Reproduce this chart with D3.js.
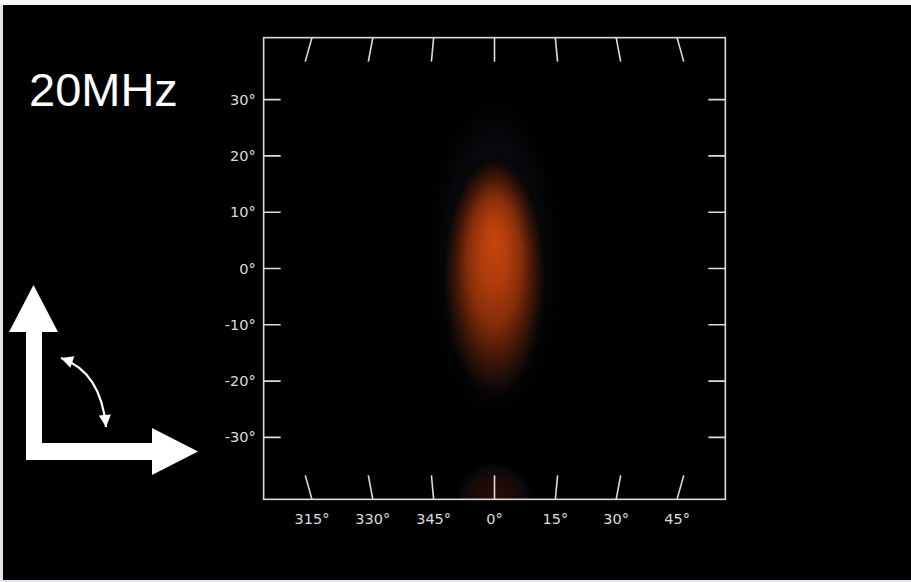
<!DOCTYPE html>
<html><head><meta charset="utf-8">
<script src="https://cdn.jsdelivr.net/npm/d3@7"></script>
<style>html,body{margin:0;padding:0;background:#e4e5e9;} svg{display:block}</style>
</head><body><svg id="c" width="911" height="582"></svg>
<script>
// ---- data ----
const title = "20MHz";
const azTicks = [-45, -30, -15, 0, 15, 30, 45];
const azTickLabels = ["315°", "330°", "345°", "0°", "15°", "30°", "45°"];
const elTicks = [30, 20, 10, 0, -10, -20, -30];
const elTickLabels = ["30°", "20°", "10°", "0°", "-10°", "-20°", "-30°"];
const elLimit = 41;          // elevation at the frame's top / bottom edge (deg)
// beam-pattern lobes (degrees)
const lobeName   = ["halo", "main", "back"];
const lobeAz     = [0, 0, 0];
const lobeEl     = [1, -2, -41];
const lobeRadAz  = [16, 11.2, 10];
const lobeRadEl  = [33, 22.5, 7];
const lobeFocusEl= [6, 5, -41];
const lobeStopOffsets = [
  [0, 0.6, 1],
  [0, 0.25, 0.5, 0.7, 0.87, 1],
  [0, 0.5, 0.8, 1]
];
const lobeStopColors = [
  ["#10141b", "#0b0e13", "#000000"],
  ["#c6450e", "#b13d0c", "#862d0a", "#461707", "#140b08", "#000000"],
  ["#2c0e07", "#1c0a07", "#0c0b0e", "#000000"]
];
const lobeStopOpacity = [
  [0.9, 0.6, 0],
  [1, 1, 1, 1, 1, 0],
  [1, 1, 0.8, 0]
];

// ---- setup ----
const svg = d3.select("#c");
const W = 911, H = 582;

// pseudo-cylindrical sky projection: straight parallels, converging meridians
const kx = 0.853, pw = 0.6;
function raw(l, f) { return [kx * l * Math.pow(Math.cos(f), pw), f]; }
raw.invert = (x, y) => [x / (kx * Math.pow(Math.cos(y), pw)), y];
const proj = d3.geoProjection(raw).scale(322.6).translate([494.5, 268.5]).precision(0.1);
const geoPath = d3.geoPath(proj);

const cx = proj([0, 0])[0], cy = proj([0, 0])[1];
const half = cy - proj([0, elLimit])[1];
const fx0 = cx - half, fx1 = cx + half, fy0 = cy - half, fy1 = cy + half;

// page background & black panel
svg.append("rect").attr("x", 0).attr("y", 0).attr("width", W).attr("height", H).attr("fill", "#e4e5e9");
svg.append("rect").attr("x", 0).attr("y", 0).attr("width", W).attr("height", 5).attr("fill", "#f7f7f7");
svg.append("rect").attr("x", 3).attr("y", 5).attr("width", W - 3).attr("height", 575).attr("fill", "#000");

const defs = svg.append("defs");
defs.append("clipPath").attr("id", "frameClip")
  .append("rect").attr("x", fx0).attr("y", fy0).attr("width", fx1 - fx0).attr("height", fy1 - fy0);

// ---- beam lobes ----
const heat = svg.append("g").attr("clip-path", "url(#frameClip)");
lobeName.forEach((name, i) => {
  const c = proj([lobeAz[i], lobeEl[i]]);
  const rx = proj([lobeAz[i] + lobeRadAz[i], lobeEl[i]])[0] - c[0];
  const ry = proj([lobeAz[i], lobeEl[i] - lobeRadEl[i]])[1] - c[1];
  const fyPix = proj([lobeAz[i], lobeFocusEl[i]])[1];
  const fyRel = 0.5 + (fyPix - c[1]) / (2 * ry);
  const g = defs.append("radialGradient").attr("id", "lobe-" + name)
    .attr("cx", 0.5).attr("cy", 0.5).attr("r", 0.5)
    .attr("fx", 0.5).attr("fy", fyRel);
  lobeStopOffsets[i].forEach((o, j) => {
    g.append("stop").attr("offset", o)
      .attr("stop-color", lobeStopColors[i][j])
      .attr("stop-opacity", lobeStopOpacity[i][j]);
  });
  heat.append("ellipse").attr("cx", c[0]).attr("cy", c[1])
    .attr("rx", rx).attr("ry", ry).attr("fill", `url(#lobe-${name})`);
});

// ---- frame ----
const ink = "#dcdcdc";
svg.append("rect").attr("x", fx0).attr("y", fy0).attr("width", fx1 - fx0).attr("height", fy1 - fy0)
  .attr("fill", "none").attr("stroke", ink).attr("stroke-width", 1.6);

// meridian ticks (top and bottom)
const tickDeg = 24 / (proj([0, 0])[1] - proj([0, 1])[1]);
const ticksG = svg.append("g").attr("clip-path", "url(#frameClip)")
  .attr("fill", "none").attr("stroke", ink).attr("stroke-width", 1.6);
azTicks.forEach(a => {
  ticksG.append("path").attr("d", geoPath({type: "LineString", coordinates: [[a, elLimit], [a, elLimit - tickDeg]]}));
  ticksG.append("path").attr("d", geoPath({type: "LineString", coordinates: [[a, -elLimit], [a, -elLimit + tickDeg]]}));
});
// parallel ticks (left and right)
const latLen = 17;
elTicks.forEach(e => {
  const y = proj([0, e])[1];
  ticksG.append("line").attr("x1", fx0).attr("x2", fx0 + latLen).attr("y1", y).attr("y2", y);
  ticksG.append("line").attr("x1", fx1).attr("x2", fx1 - latLen).attr("y1", y).attr("y2", y);
});

// tick labels
const lblFont = "'DejaVu Sans', sans-serif";
svg.append("g").selectAll("text").data(azTicks).join("text")
  .attr("x", d => proj([d, -elLimit])[0])
  .attr("y", fy1 + 25)
  .attr("text-anchor", "middle")
  .attr("font-family", lblFont).attr("font-size", 14.5).attr("fill", ink)
  .text((d, i) => azTickLabels[i]);
svg.append("g").selectAll("text").data(elTicks).join("text")
  .attr("x", fx0 - 8)
  .attr("y", d => proj([0, d])[1] + 5)
  .attr("text-anchor", "end")
  .attr("font-family", lblFont).attr("font-size", 14.5).attr("fill", ink)
  .text((d, i) => elTickLabels[i]);

// ---- title ----
svg.append("text").attr("x", 29).attr("y", 106)
  .attr("font-family", "'Liberation Sans', Arial, sans-serif").attr("font-size", 47)
  .attr("fill", "#ffffff").text(title);

// ---- polarisation arrows ----
svg.append("polygon").attr("fill", "#ffffff").attr("points",
  [[9,332],[33.5,285],[58,332],[42,332],[42,443],[152,443],[152,428],[198,451.5],[152,475],[152,460],[26,460],[26,332]]
  .map(p => p.join(",")).join(" "));
defs.append("marker").attr("id", "ah").attr("viewBox", "0 0 10 10")
  .attr("refX", 10).attr("refY", 5).attr("markerUnits", "userSpaceOnUse")
  .attr("markerWidth", 15).attr("markerHeight", 12).attr("orient", "auto-start-reverse")
  .append("path").attr("d", "M0,0 L10,5 L0,10 z").attr("fill", "#fff");
svg.append("path").attr("d", "M61,358 Q101,372 106,427")
  .attr("fill", "none").attr("stroke", "#fff").attr("stroke-width", 2.2)
  .attr("marker-start", "url(#ah)").attr("marker-end", "url(#ah)");
</script>
</body></html>
